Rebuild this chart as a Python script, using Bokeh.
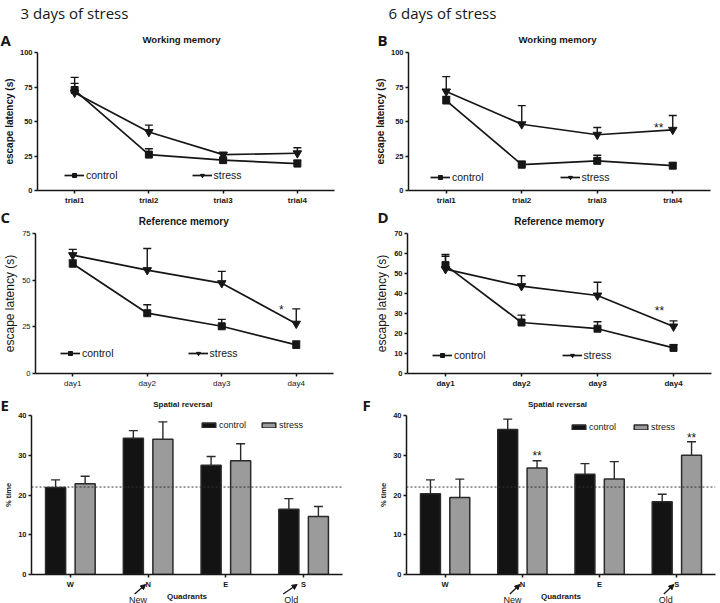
from bokeh.plotting import figure
from bokeh.models import (ColumnDataSource, FactorRange, Range1d, FixedTicker, Label,
                          Span, Arrow, NormalHead, GridBox)
from bokeh.layouts import column, row
from bokeh.transform import dodge
from bokeh.core.properties import value
from bokeh.embed import file_html
from bokeh.resources import INLINE

# ---------------- data ----------------
trials = ["trial1", "trial2", "trial3", "trial4"]
days = ["day1", "day2", "day3", "day4"]
quadrants = ["W", "N", "E", "S"]

# A: 3 days, working memory
a_control = [72.8, 26.0, 22.0, 19.5]
a_control_err = [4.8, 4.2, 1.2, 2.5]
a_stress = [70.9, 42.4, 26.0, 27.0]
a_stress_err = [11.1, 5.0, 1.5, 4.0]
# B: 6 days, working memory
b_control = [65.2, 18.7, 21.5, 18.0]
b_control_err = [3.0, 2.5, 4.0, 2.0]
b_stress = [71.8, 48.0, 40.4, 44.0]
b_stress_err = [10.7, 13.5, 5.2, 10.3]
# C: 3 days, reference memory
c_control = [58.8, 32.3, 25.3, 15.3]
c_control_err = [2.0, 4.5, 3.7, 2.1]
c_stress = [63.4, 55.4, 48.4, 26.7]
c_stress_err = [3.1, 11.6, 6.3, 7.9]
# D: 6 days, reference memory
d_control = [54.2, 25.5, 22.4, 12.8]
d_control_err = [4.4, 3.7, 3.5, 1.6]
d_stress = [52.2, 43.7, 39.0, 23.5]
d_stress_err = [7.3, 5.2, 6.6, 2.8]
# E: 3 days, spatial reversal (% time)
e_control = [21.9, 34.3, 27.5, 16.4]
e_control_err = [1.9, 1.9, 2.2, 2.7]
e_stress = [22.8, 34.0, 28.6, 14.6]
e_stress_err = [1.9, 4.4, 4.3, 2.5]
# F: 6 days, spatial reversal (% time)
f_control = [20.3, 36.5, 25.2, 18.3]
f_control_err = [3.5, 2.6, 2.7, 1.9]
f_stress = [19.4, 26.8, 24.0, 30.0]
f_stress_err = [4.6, 1.8, 4.4, 3.4]
chance_level = 22

# significance marks
b_sig_x, b_sig_y, b_sig_t = ["trial4"], [45.5], ["**"]
c_sig_x, c_sig_y, c_sig_t = ["day4"], [34.2], ["*"]
d_sig_x, d_sig_y, d_sig_t = ["day4"], [31.2], ["**"]
f_sig_x, f_sig_y, f_sig_t = ["N", "S"], [29.9, 34.3], ["**", "**"]

INK = "#161616"
FONT = "Liberation Sans"
PAGE_W, PAGE_H = 720, 603


def make_fig(cats, ymax, yticks, W, H, L, T, R, B, tick_style="bold"):
    p = figure(x_range=FactorRange(factors=cats), y_range=Range1d(0, ymax),
               width=W, height=H, min_border_left=L, min_border_right=R,
               min_border_top=T, min_border_bottom=B,
               output_backend="svg", toolbar_location=None)
    p.xgrid.visible = False
    p.ygrid.visible = False
    p.outline_line_color = None
    p.yaxis.ticker = FixedTicker(ticks=yticks)
    for ax in (p.xaxis[0], p.yaxis[0]):
        ax.axis_line_width = 1.5
        ax.axis_line_color = INK
        ax.major_tick_line_color = INK
        ax.major_tick_line_width = 1.5
        ax.major_tick_in = 0
        ax.major_tick_out = 3
        ax.minor_tick_line_color = None
        ax.major_label_standoff = 2
        ax.major_label_text_font = FONT
        ax.major_label_text_color = INK
        ax.major_label_text_font_style = tick_style
        ax.axis_label_text_font = FONT
        ax.axis_label_text_color = INK
        ax.axis_label_standoff = 2
    p.xaxis.major_label_text_font_size = "8px"
    p.yaxis.major_label_text_font_size = "7.5px"
    return p, (L, T, H - T - B, W - L - R)


def style_legend(p, loc, spacing, gw, gh, size):
    lg = p.legend[0]
    lg.orientation = "horizontal"
    lg.location = loc
    lg.spacing = int(round(spacing))
    lg.padding = 0
    lg.margin = 0
    lg.border_line_color = None
    lg.background_fill_alpha = 0
    lg.glyph_width = gw
    lg.glyph_height = gh
    lg.label_height = 10
    lg.label_width = 10
    lg.label_standoff = 2
    lg.label_text_font = FONT
    lg.label_text_font_size = size
    lg.label_text_color = INK


def line_panel(cats, ctrl, ctrl_err, strs, strs_err, ymax, yticks, W, H, L, T, R, B,
               ylabel_size, ylabel_style, tick_style, leg_loc, leg_spacing):
    p, geom = make_fig(cats, ymax, yticks, W, H, L, T, R, B, tick_style)
    p.yaxis.axis_label = "escape latency (s)"
    p.yaxis.axis_label_text_font_size = ylabel_size
    p.yaxis.axis_label_text_font_style = ylabel_style
    src = ColumnDataSource(dict(
        x=cats, c=ctrl, ct=[v + e for v, e in zip(ctrl, ctrl_err)],
        s=strs, st=[v + e for v, e in zip(strs, strs_err)]))
    for lo, hi in (("c", "ct"), ("s", "st")):
        p.segment(x0="x", y0=lo, x1="x", y1=hi, source=src, line_color=INK, line_width=1.4)
        p.scatter(x="x", y=hi, marker="dash", size=8, source=src, line_color=INK, line_width=1.4)
    p.line(x="x", y="c", source=src, line_color=INK, line_width=1.7, legend_label="control")
    p.scatter(x="x", y="c", marker="square", size=7, source=src, fill_color=INK,
              line_color=INK, legend_label="control")
    p.line(x="x", y="s", source=src, line_color=INK, line_width=1.7, legend_label="stress")
    p.scatter(x="x", y="s", marker="inverted_triangle", size=8.5, source=src, fill_color=INK,
              line_color=INK, legend_label="stress")
    style_legend(p, leg_loc, leg_spacing, 20, 10, "10.5px")
    return p, geom


def bar_panel(ctrl, ctrl_err, strs, strs_err, W, H, L, T, R, B, leg_loc, leg_spacing):
    p, geom = make_fig(quadrants, 40, [0, 10, 20, 30, 40], W, H, L, T, R, B, "bold")
    p.xaxis.major_label_text_font_size = "7.5px"
    p.yaxis.axis_label = "% time"
    p.yaxis.axis_label_text_font_size = "7.5px"
    p.yaxis.axis_label_text_font_style = "bold"
    p.xaxis.axis_label = "Quadrants"
    p.xaxis.axis_label_text_font_size = "8px"
    p.xaxis.axis_label_text_font_style = "bold"
    p.xaxis.axis_label_standoff = 0
    src = ColumnDataSource(dict(
        x=quadrants, c=ctrl, ct=[v + e for v, e in zip(ctrl, ctrl_err)],
        s=strs, st=[v + e for v, e in zip(strs, strs_err)]))
    cx = dodge("x", -0.19, range=p.x_range)
    sx = dodge("x", 0.19, range=p.x_range)
    for xx, lo, hi in ((cx, "c", "ct"), (sx, "s", "st")):
        p.segment(x0=xx, y0=lo, x1=xx, y1=hi, source=src, line_color="#2a2a2a", line_width=1.4)
        p.scatter(x=xx, y=hi, marker="dash", size=9, source=src, line_color="#2a2a2a", line_width=1.4)
    p.vbar(x=cx, top="c", width=0.258, source=src, fill_color="#131313", line_color="#2a2a2a",
           line_width=1.5, legend_label="control")
    p.vbar(x=sx, top="s", width=0.258, source=src, fill_color="#9b9b9b", line_color="#2a2a2a",
           line_width=1.5, legend_label="stress")
    p.add_layout(Span(location=chance_level, dimension="width", line_color="#333333",
                      line_width=1, line_dash="2 2"))
    style_legend(p, leg_loc, leg_spacing, 17, 6, "9px")
    return p, geom


def sig_marks(p, xs, ys, ts, xform_off=0.0, x_offset=0):
    src = ColumnDataSource(dict(x=xs, y=ys, t=ts))
    xx = dodge("x", xform_off, range=p.x_range) if xform_off else "x"
    p.text(x=xx, y="y", text="t", source=src, x_offset=x_offset, text_font=value(FONT),
           text_font_size="12px", text_align="center", text_baseline="middle", text_color=INK)


# ---------------- row 1 (height 207) ----------------
pA, gA = line_panel(trials, a_control, a_control_err, a_stress, a_stress_err, 100,
                    [0, 25, 50, 75, 100], 360, 207, 31, 52, 26, 15,
                    "10px", "bold", "bold", (27, 9), 74)
pB, gB = line_panel(trials, b_control, b_control_err, b_stress, b_stress_err, 100,
                    [0, 25, 50, 75, 100], 360, 207, 48, 52, 10, 15,
                    "10px", "bold", "bold", (22, 7), 76)
sig_marks(pB, b_sig_x, b_sig_y, b_sig_t, x_offset=-14)

# ---------------- row 2 (height 183) ----------------
pC, gC = line_panel(days, c_control, c_control_err, c_stress, c_stress_err, 75,
                    [0, 25, 50, 75], 360, 183, 32, 26, 27, 15,
                    "12px", "normal", "normal", (25, 14), 74)
sig_marks(pC, c_sig_x, c_sig_y, c_sig_t, x_offset=-15)
pD, gD = line_panel(days, d_control, d_control_err, d_stress, d_stress_err, 70,
                    [0, 10, 20, 30, 40, 50, 60, 70], 360, 183, 47, 26, 9, 15,
                    "12px", "normal", "bold", (25, 12), 76)
sig_marks(pD, d_sig_x, d_sig_y, d_sig_t, x_offset=-14)

# ---------------- row 3 (height 213) ----------------
pE, gE = bar_panel(e_control, e_control_err, e_stress, e_stress_err, 360, 213, 31, 25, 18, 28,
                   (169, 144), 14)
pF, gF = bar_panel(f_control, f_control_err, f_stress, f_stress_err, 360, 213, 46, 25, 5, 28,
                   (164, 142), 16)
sig_marks(pF, f_sig_x, f_sig_y, f_sig_t, xform_off=0.19)

main = column(row(pA, pB), row(pC, pD), row(pE, pF))

# ---------------- transparent overlay for texts outside the plot frames ----------------
ov = figure(width=PAGE_W, height=PAGE_H, x_range=Range1d(0, PAGE_W), y_range=Range1d(PAGE_H, 0),
            min_border=0, x_axis_type=None, y_axis_type=None,
            output_backend="svg", toolbar_location=None)
ov.outline_line_color = None
ov.background_fill_color = None
ov.border_fill_color = None


def otext(x, y, text, size, style="normal", font=FONT, align="left"):
    ov.add_layout(Label(x=x, y=y, text=text, text_font=font, text_font_size=f"{size}px",
                        text_font_style=style, text_align=align, text_baseline="alphabetic",
                        text_color=INK))


otext(20, 12, "3 days of stress", 15, font="Open Sans")
otext(388, 12, "6 days of stress", 15, font="Open Sans")
panel_letters = [("A", 0, 39), ("B", 377, 39), ("C", 0, 216.7), ("D", 377, 216.7),
                 ("E", 0, 404), ("F", 362, 404)]
for t, x, y in panel_letters:
    otext(x, y, t, 15, style="bold", font="Open Sans")
panel_titles = [("Working memory", 181, 38.5, 9.6), ("Working memory", 557, 38.5, 9.6),
                ("Reference memory", 183.3, 220.5, 10), ("Reference memory", 558.7, 220.5, 10),
                ("Spatial reversal", 182.3, 403.5, 8), ("Spatial reversal", 557, 403.5, 8)]
for t, x, y, s in panel_titles:
    otext(x, y, t, s, style="bold", align="center")


def cat_page_x(fig_x0, geom, i):
    L, T, fh, fw = geom
    return fig_x0 + L + fw * (i + 0.5) / 4.0


row3_bottom = 390 + gE[1] + gE[2]   # page y of the bar panels' x axis
notes = [(0, gE, 1, -13.5, -2.5, "New", -10.2), (0, gE, 3, -20.4, -6.5, "Old", -12.4),
         (360, gF, 1, -12.5, -2.5, "New", -9.8), (360, gF, 3, -13.0, -3.0, "Old", -11.0)]
for x0, g, i, dx0, dx1, word, dt in notes:
    cx = cat_page_x(x0, g, i)
    ov.add_layout(Arrow(x_start=cx + dx0, y_start=row3_bottom + 18.5, x_end=cx + dx1,
                        y_end=row3_bottom + 9, line_color=INK, line_width=1.3,
                        end=NormalHead(size=5, fill_color=INK, line_color=INK, line_width=1)))
    otext(cx + dt, 599, word, 9, align="center")

root = GridBox(children=[(main, 0, 0), (ov, 0, 0)])
open("out.html", "w").write(file_html(root, INLINE))
